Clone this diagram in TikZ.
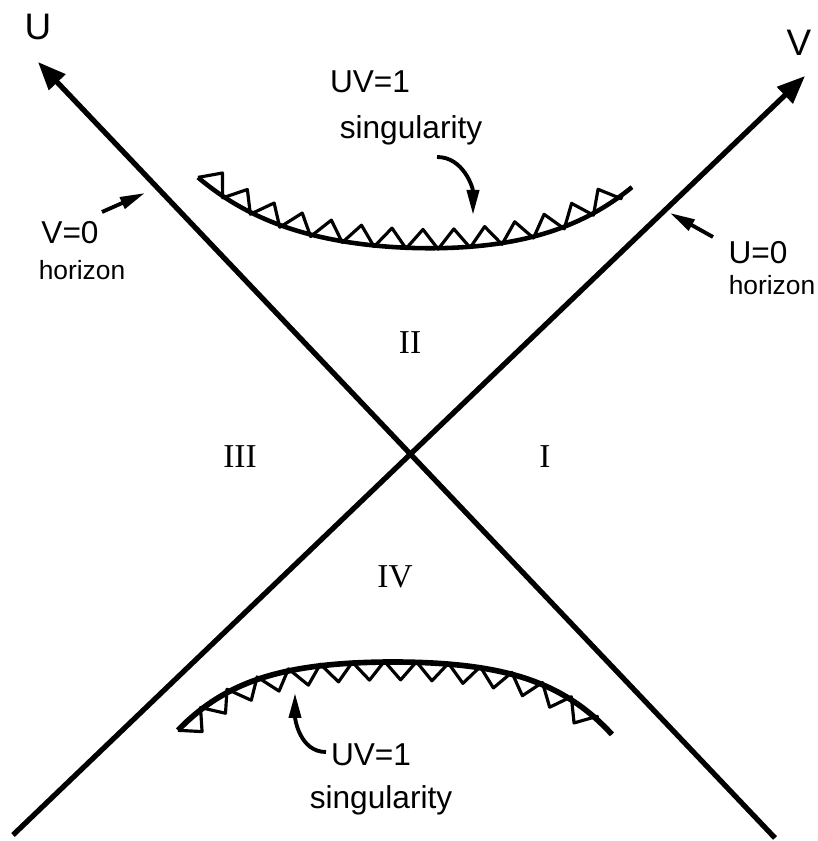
\documentclass[tikz,border=0pt]{standalone}
\usepackage{fontspec}
\setmainfont{Liberation Serif}
\setsansfont{Liberation Sans}
\usetikzlibrary{arrows.meta,decorations}

% triangular teeth standing on one side of a path
\pgfdeclaredecoration{teeth}{tooth}{
  \state{tooth}[switch if less than=\pgfdecorationsegmentlength to last,
                width=\pgfdecorationsegmentlength]{
    \pgfpathlineto{\pgfqpoint{0.5\pgfdecorationsegmentlength}{\pgfdecorationsegmentamplitude}}
    \pgfpathlineto{\pgfqpoint{\pgfdecorationsegmentlength}{0pt}}
  }
  \state{last}[next state=final]{
    \pgfpathlineto{\pgfpointdecoratedinputsegmentlast}
  }
  \state{final}{
    \pgfpathlineto{\pgfpointdecoratedpathlast}
  }
}

\tikzset{
  axis/.style={line width=1.5pt, -{Triangle[length=2.8mm, width=2.2mm]}},
  sing/.style={line width=1.3pt, line join=round,
    postaction={draw, line width=0.9pt, decorate,
      decoration={teeth, segment length=3.2mm, amplitude=#1}}},
  pointer/.style={line width=1.1pt, -{Triangle[length=2.5mm, width=1.2mm]}},
  lbl/.style={font=\sffamily\fontsize{9}{10}\selectfont},
  hor/.style={font=\sffamily\fontsize{7.5}{9}\selectfont},
  axlbl/.style={font=\sffamily\fontsize{10.5}{12}\selectfont},
  region/.style={font=\fontsize{9.5}{11}\selectfont}
}

\begin{document}
\begin{tikzpicture}
        % --- 1. Frame ---
        \useasboundingbox (-4.10,-3.86) rectangle (4.07,4.55);

        % --- 2. Kruskal axes (horizons) ---
        \coordinate (O) at (0,0);
        \coordinate (Utip) at (-3.72,3.93);
        \coordinate (Uend) at (3.65,-3.83);
        \coordinate (Vtip) at (3.95,3.79);
        \coordinate (Vend) at (-3.97,-3.80);
        \draw[axis] (Uend) -- (Utip);
        \draw[axis] (Vend) -- (Vtip);
        \node[axlbl] (labU) at (-3.72,4.28) {U};
        \node[axlbl] (labV) at (3.89,4.12) {V};

        % --- 3. Horizon labels ---
        \node[lbl] (labVzero) at (-3.40,2.22) {V=0};
        \node[hor] (labHorL) at (-3.28,1.85) {horizon};
        \coordinate (vzTail) at (-3.08,2.43);
        \coordinate (vzTip) at (-2.65,2.62);
        \draw[pointer] (vzTail) -- (vzTip);

        \node[lbl] (labUzero) at (3.48,2.02) {U=0};
        \node[hor] (labHorR) at (3.62,1.70) {horizon};
        \coordinate (uzTail) at (3.03,2.18);
        \coordinate (uzTip) at (2.60,2.42);
        \draw[pointer] (uzTail) -- (uzTip);

        % --- 4. Singularities UV=1 ---
        % future one, teeth pointing outward
        \draw[sing=1.9mm] plot[domain=-2.15:2.19, samples=90]
            ({\x+0.03}, {2.07 + 0.0874*\x*\x + 0.0111*\x*\x*\x*\x - 0.03*\x});
        \node[lbl] (labTopUV) at (-0.40,3.73) {UV=1};
        \node[lbl] (labTopSing) at (0.01,3.25) {singularity};
        \coordinate (tsTail) at (0.27,2.98);
        \coordinate (tsTip) at (0.63,2.40);
        \draw[pointer] (tsTail) to[out=0, in=90] (tsTip);

        % past one, teeth pointing inward
        \draw[sing=-1.8mm, line width=1.6pt] plot[domain=-2.15:2.19, samples=90]
            ({\x-0.17}, {-2.07 - 0.064*\x*\x - 0.0158*\x*\x*\x*\x - 0.0005*\x*\x*\x*\x*\x*\x});
        \node[lbl] (labBotUV) at (-0.39,-3.00) {UV=1};
        \node[lbl] (labBotSing) at (-0.29,-3.45) {singularity};
        \coordinate (bsTail) at (-0.84,-2.97);
        \coordinate (bsTip) at (-1.15,-2.38);
        \draw[pointer] (bsTail) to[out=180, in=-90] (bsTip);

        % --- 5. Regions ---
        \node[region] (regI) at (1.35,-0.02) {I};
        \node[region] (regII) at (0,1.12) {II};
        \node[region] (regIII) at (-1.70,-0.02) {III};
        \node[region] (regIV) at (-0.15,-1.22) {IV};
\end{tikzpicture}
\end{document}
